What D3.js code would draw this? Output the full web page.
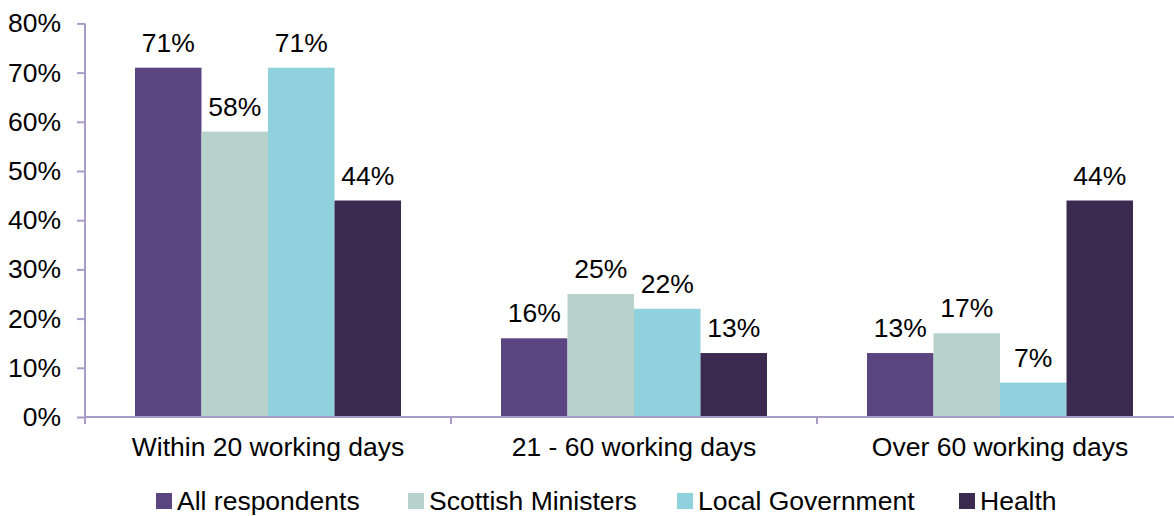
<!DOCTYPE html>
<html>
<head>
<meta charset="utf-8">
<script src="https://cdn.jsdelivr.net/npm/d3@7"></script>
<style>
  html, body { margin: 0; padding: 0; background: #fff; }
  svg { display: block; font-family: Arial, "Liberation Sans", sans-serif; }
</style>
</head>
<body>
<svg id="chart" width="1174" height="516"></svg>
<script>
// Response times by respondent group (share of requests)
const categories = ["Within 20 working days", "21 - 60 working days", "Over 60 working days"];
const seriesNames = ["All respondents", "Scottish Ministers", "Local Government", "Health"];
const allRespondents = [0.71, 0.16, 0.13];
const scottishMinisters = [0.58, 0.25, 0.17];
const localGovernment = [0.71, 0.22, 0.07];
const health = [0.44, 0.13, 0.44];
const yTicks = [0, 0.1, 0.2, 0.3, 0.4, 0.5, 0.6, 0.7, 0.8];

const seriesValues = [allRespondents, scottishMinisters, localGovernment, health];
const colors = ["#5b4580", "#b7d1cb", "#8fd2dd", "#3a2a4f"];

const svg = d3.select("#chart");
const axisColor = "#a99cc8";
const fontSize = 26.5;

const plotLeft = 85, plotTop = 23.4, plotBottom = 417, plotRight = 1183;

const x0 = d3.scaleBand().domain(categories).range([plotLeft, plotRight]).paddingInner(0).paddingOuter(0);
const x1 = d3.scaleBand().domain(seriesNames).range([0, x0.bandwidth()]).paddingOuter(0.752).paddingInner(0);
const y = d3.scaleLinear().domain([0, 0.8]).range([plotBottom, plotTop]);
const color = d3.scaleOrdinal().domain(seriesNames).range(colors);
const pct = d3.format(".0%");

// Bars
const groups = svg.append("g").selectAll("g")
  .data(categories)
  .join("g")
  .attr("transform", d => `translate(${x0(d)},0)`);

groups.selectAll("rect")
  .data((c, i) => seriesNames.map((s, j) => ({ s, v: seriesValues[j][i] })))
  .join("rect")
  .attr("x", d => x1(d.s))
  .attr("width", x1.bandwidth())
  .attr("y", d => y(d.v))
  .attr("height", d => y(0) - y(d.v))
  .attr("fill", d => color(d.s));

// Value labels
groups.selectAll("text")
  .data((c, i) => seriesNames.map((s, j) => ({ s, v: seriesValues[j][i] })))
  .join("text")
  .attr("x", d => x1(d.s) + x1.bandwidth() / 2)
  .attr("y", d => y(d.v) - 16)
  .attr("text-anchor", "middle")
  .attr("font-size", fontSize)
  .attr("fill", "#000")
  .text(d => pct(d.v));

// Y axis
const yAxis = svg.append("g")
  .attr("transform", `translate(${plotLeft},0)`)
  .call(d3.axisLeft(y).tickValues(yTicks).tickFormat(pct).tickSize(8).tickSizeOuter(0).tickPadding(16));
yAxis.select(".domain").attr("stroke", axisColor).attr("stroke-width", 2)
  .attr("d", `M0,${plotTop}V${plotBottom + 7}`);
yAxis.selectAll(".tick line").attr("stroke", axisColor).attr("stroke-width", 2);
yAxis.selectAll(".tick text").attr("font-size", fontSize).attr("fill", "#000")
  .attr("font-family", "Arial, 'Liberation Sans', sans-serif");

// X axis
const xAxis = svg.append("g")
  .attr("transform", `translate(0,${plotBottom})`)
  .call(d3.axisBottom(x0).tickSize(0).tickPadding(20));
xAxis.select(".domain").attr("stroke", axisColor).attr("stroke-width", 2)
  .attr("d", `M${plotLeft},0H${plotRight}`);
xAxis.selectAll(".tick text").attr("font-size", fontSize).attr("fill", "#000")
  .attr("font-family", "Arial, 'Liberation Sans', sans-serif")
  .attr("dy", "0.71em");

// Category separators
svg.append("g").selectAll("line")
  .data(categories.slice(1))
  .join("line")
  .attr("x1", d => x0(d)).attr("x2", d => x0(d))
  .attr("y1", plotBottom).attr("y2", plotBottom + 7)
  .attr("stroke", axisColor).attr("stroke-width", 2);

// Legend
const legendX = [156, 408, 677, 959];
const legend = svg.append("g").selectAll("g")
  .data(seriesNames)
  .join("g")
  .attr("transform", (d, i) => `translate(${legendX[i]},0)`);
legend.append("rect")
  .attr("x", 0).attr("y", 493).attr("width", 16).attr("height", 16)
  .attr("fill", d => color(d));
legend.append("text")
  .attr("x", 21).attr("y", 510)
  .attr("font-size", fontSize).attr("fill", "#000")
  .text(d => d);
</script>
</body>
</html>
